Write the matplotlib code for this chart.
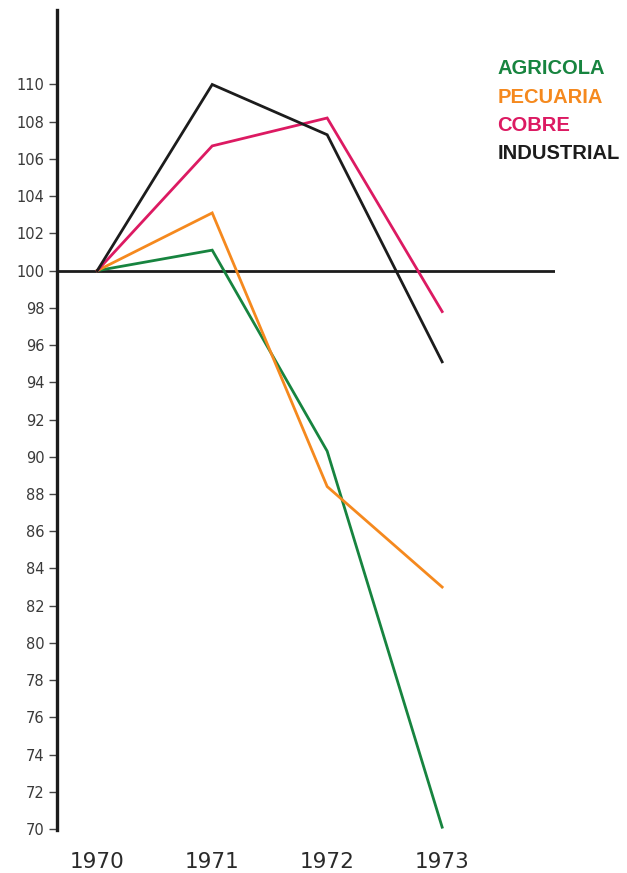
import matplotlib.pyplot as plt

# 1. data
years = [1970, 1971, 1972, 1973]
agricola = [100, 101.1, 90.3, 70.1]
pecuaria = [100, 103.1, 88.4, 83.0]
cobre = [100, 106.7, 108.2, 97.8]
industrial = [100, 110, 107.3, 95.1]

names = ["AGRICOLA", "PECUARIA", "COBRE", "INDUSTRIAL"]
colors = ["#17843f", "#f5891e", "#dc1a62", "#1c1c1c"]
y_ticks = list(range(70, 111, 2))

plt.rcParams['font.family'] = ['DejaVu Sans']

# 2. figure / axes
fig = plt.figure(figsize=(6.27, 8.73), dpi=100)
ax = fig.add_axes([0.0909, 0.0493, 0.794, 0.9392])

# 3. lines
for vals, c in zip([agricola, pecuaria, cobre, industrial], colors):
    ax.plot(years, vals, color=c, linewidth=2.0, solid_joinstyle='miter', zorder=3)

ax.axhline(100, color="#1c1c1c", linewidth=2.0, zorder=2)

# 4. axes style
ax.set_xlim(1969.65, 1973.98)
ax.set_ylim(69.95, 114.0)
for s in ["top", "right", "bottom"]:
    ax.spines[s].set_visible(False)
ax.spines["left"].set_linewidth(2.4)
ax.spines["left"].set_color("#1c1c1c")

ax.set_yticks(y_ticks)
ax.set_yticklabels([str(v) for v in y_ticks])
ax.tick_params(axis='y', direction='out', length=6, width=1, color="#444444",
               labelsize=10.5, labelcolor="#3a3a3a", pad=3)
ax.set_xticks(years)
ax.set_xticklabels([str(y) for y in years])
ax.tick_params(axis='x', length=0, labelsize=15.5, labelcolor="#2a2a2a", pad=16)

# 5. legend text
for i, (n, c) in enumerate(zip(names, colors)):
    fig.text(0.793, 1 - (69 + i * 28.3) / 873, n, color=c, fontsize=14.5,
             fontweight='bold', va='center', ha='left', family='Liberation Sans')

fig.savefig("out.png", dpi=100)
